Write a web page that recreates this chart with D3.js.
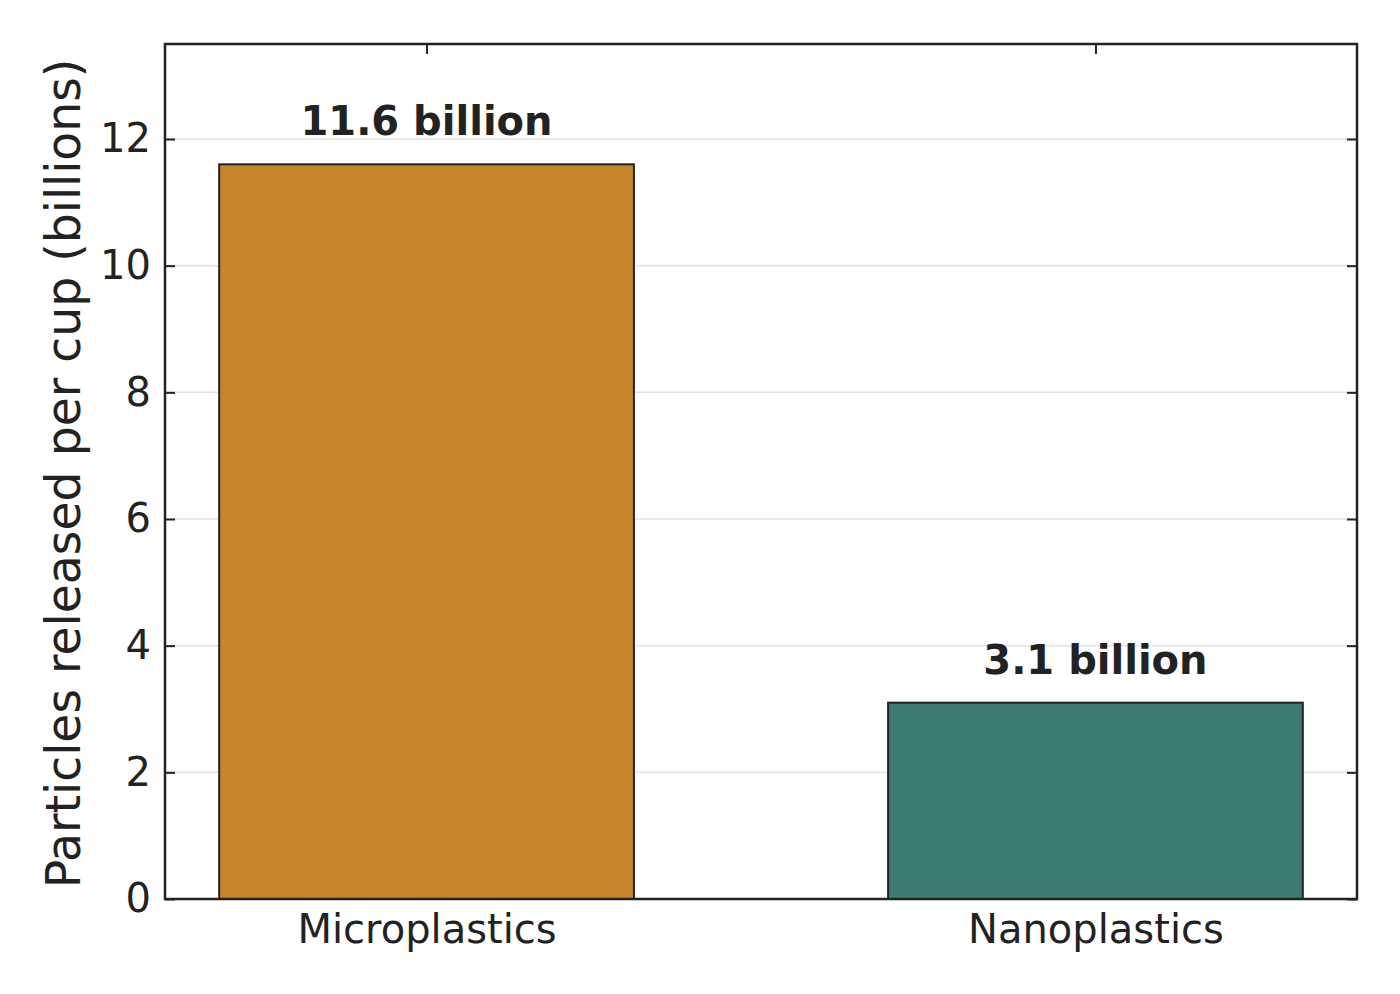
<!DOCTYPE html>
<html><head><meta charset="utf-8">
<script src="https://cdn.jsdelivr.net/npm/d3@7/dist/d3.min.js"></script>
<style>html,body{margin:0;padding:0;background:#fff;}svg{display:block;}</style>
</head><body>
<svg id="chart" width="1400" height="994"></svg>
<script>
const categories = ["Microplastics", "Nanoplastics"];
const values = [11.6, 3.1];
const valueLabels = ["11.6 billion", "3.1 billion"];
const barColors = ["#C6852A", "#3C7B70"];
const yTicks = [0, 2, 4, 6, 8, 10, 12];
const yLabel = "Particles released per cup (billions)";

const W = 1400, H = 994;
const m = {left: 165, right: 43, top: 44, bottom: 95};
const iw = W - m.left - m.right, ih = H - m.top - m.bottom;
const svg = d3.select("#chart");
const font = "DejaVu Sans, sans-serif";
const ink = "#222222";

const x = d3.scaleLinear().domain([-0.391, 1.391]).range([0, iw]);
const y = d3.scaleLinear().domain([0, 13.5]).range([ih, 0]);
const bw = 0.62;

const g = svg.append("g").attr("transform", `translate(${m.left},${m.top})`);

// grid
g.append("g").selectAll("line").data(yTicks.filter(d => d > 0)).join("line")
  .attr("x1", 0).attr("x2", iw)
  .attr("y1", d => y(d)).attr("y2", d => y(d))
  .attr("stroke", "#e2e2e2").attr("stroke-width", 1.5);

// axes (drawn before bars so bars cover bottom ticks)
const tickLen = 10;
const yAxisL = d3.axisLeft(y).tickValues(yTicks).tickSize(-tickLen).tickPadding(14);
const yAxisR = d3.axisRight(y).tickValues(yTicks).tickSize(-tickLen).tickFormat("");
const xAxisB = d3.axisBottom(x).tickValues([0, 1]).tickSize(0).tickPadding(16).tickFormat((d) => categories[d]);
const xAxisT = d3.axisTop(x).tickValues([0, 1]).tickSize(-tickLen).tickFormat("");

function style(sel) {
  sel.select(".domain").remove();
  sel.selectAll(".tick line").attr("stroke", ink).attr("stroke-width", 2);
  sel.selectAll(".tick text").attr("font-family", font).attr("font-size", 40).attr("fill", ink);
}
g.append("g").call(yAxisL).call(style);
g.append("g").attr("transform", `translate(${iw},0)`).call(yAxisR).call(style);
g.append("g").attr("transform", `translate(0,${ih})`).call(xAxisB).call(style);
g.append("g").call(xAxisT).call(style);

// bars
g.append("g").selectAll("rect").data(values).join("rect")
  .attr("x", (d, i) => x(i - bw / 2))
  .attr("width", (d, i) => x(i + bw / 2) - x(i - bw / 2))
  .attr("y", d => y(d))
  .attr("height", d => y(0) - y(d))
  .attr("fill", (d, i) => barColors[i])
  .attr("stroke", ink).attr("stroke-width", 2);

// value labels
g.append("g").selectAll("text").data(values).join("text")
  .attr("x", (d, i) => x(i))
  .attr("y", d => y(d) - 29)
  .attr("text-anchor", "middle")
  .attr("font-family", font).attr("font-weight", "bold").attr("font-size", 40)
  .attr("fill", ink)
  .text((d, i) => valueLabels[i]);

// frame
g.append("rect").attr("x", 0).attr("y", 0).attr("width", iw).attr("height", ih)
  .attr("fill", "none").attr("stroke", ink).attr("stroke-width", 2.5);

// y label
svg.append("text")
  .attr("transform", `translate(80,${m.top + ih / 2 + 2}) rotate(-90)`)
  .attr("text-anchor", "middle")
  .attr("font-family", font).attr("font-size", 47.3).attr("fill", ink)
  .text(yLabel);
</script>
</body></html>
